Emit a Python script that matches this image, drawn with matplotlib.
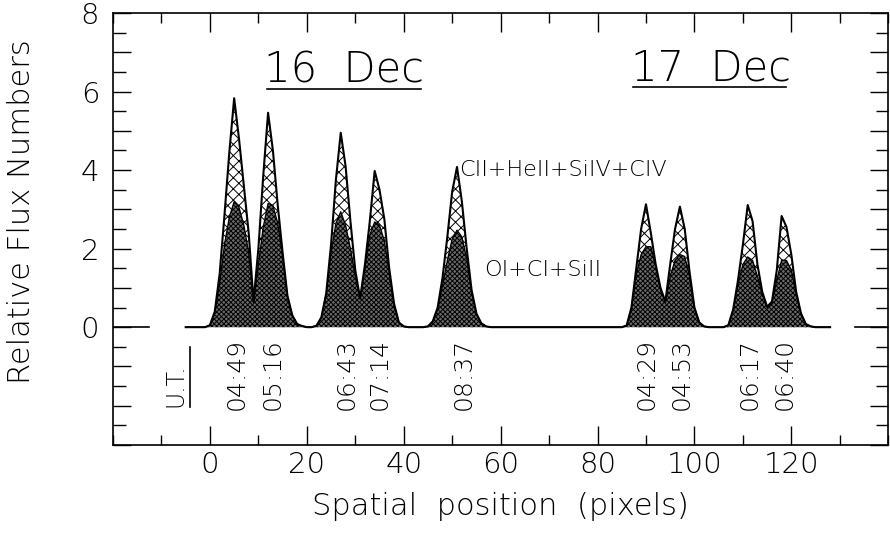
import numpy as np
import matplotlib
matplotlib.use('Agg')
import matplotlib.pyplot as plt
from matplotlib.ticker import MultipleLocator

plt.rcParams['font.family'] = ['DejaVu Sans']
plt.rcParams['font.weight'] = 200
plt.rcParams['axes.labelweight'] = 200
plt.rcParams['hatch.linewidth'] = 0.7

# spatial pixel grid (-5 .. 128)
pixel = np.arange(-5, 129)

# CII+HeII+SiIV+CIV (cross hatched, upper curve)
flux_hi = [0, 0, 0, 0, 0, 0.05, 0.4, 1.35, 2.85, 4.45,
           5.83, 4.8, 3.6, 2.4, 0.65, 2.0, 3.85, 5.46, 4.5, 3.1,
           1.9, 0.8, 0.3, 0.08, 0.03, 0, 0, 0.04, 0.25, 0.86,
           2.1, 3.75, 4.95, 4.1, 2.7, 1.45, 0.73, 1.6, 2.7, 3.98,
           3.5, 2.75, 1.5, 0.6, 0.12, 0.02, 0, 0, 0, 0,
           0.02, 0.15, 0.5, 1.25, 2.3, 3.45, 4.08, 3.2, 2.0, 0.95,
           0.35, 0.1, 0.02, 0, 0, 0, 0, 0, 0, 0,
           0, 0, 0, 0, 0, 0, 0, 0, 0, 0,
           0, 0, 0, 0, 0, 0, 0, 0, 0, 0,
           0, 0.04, 0.5, 1.5, 2.5, 3.13, 2.4, 1.6, 1.0, 0.65,
           1.6, 2.5, 3.07, 2.5, 1.4, 0.5, 0.12, 0.02, 0, 0,
           0, 0, 0.05, 0.45, 1.2, 2.1, 3.11, 2.7, 1.6, 0.9,
           0.52, 0.65, 1.45, 2.83, 2.55, 1.85, 0.9, 0.35, 0.08, 0.02,
           0, 0, 0, 0]

# OI+CI+SiII (dense shading, lower curve)
flux_lo = [0, 0, 0, 0, 0, 0.05, 0.35, 1.1, 2.1, 2.8,
           3.2, 3.05, 2.6, 1.9, 0.62, 1.6, 2.55, 3.15, 3.1, 2.65,
           1.8, 0.78, 0.3, 0.08, 0.03, 0, 0, 0.04, 0.25, 0.85,
           1.9, 2.65, 2.94, 2.6, 2.0, 1.3, 0.72, 1.5, 2.35, 2.68,
           2.6, 2.2, 1.4, 0.58, 0.12, 0.02, 0, 0, 0, 0,
           0.02, 0.14, 0.45, 1.05, 1.7, 2.25, 2.47, 2.3, 1.75, 0.9,
           0.33, 0.1, 0.02, 0, 0, 0, 0, 0, 0, 0,
           0, 0, 0, 0, 0, 0, 0, 0, 0, 0,
           0, 0, 0, 0, 0, 0, 0, 0, 0, 0,
           0, 0.04, 0.48, 1.35, 1.85, 2.05, 2.05, 1.55, 0.95, 0.63,
           1.3, 1.7, 1.85, 1.8, 1.3, 0.5, 0.12, 0.02, 0, 0,
           0, 0, 0.05, 0.43, 1.1, 1.6, 1.79, 1.7, 1.3, 0.85,
           0.5, 0.62, 1.2, 1.71, 1.7, 1.45, 0.85, 0.33, 0.08, 0.02,
           0, 0, 0, 0]

# observation times (U.T.) under each peak
ut_pos = [5.5, 12.9, 28.3, 35.1, 52.3, 90.2, 97.4, 111.4, 118.6]
ut_labels = ['04:49', '05:16', '06:43', '07:14', '08:37',
             '04:29', '04:53', '06:17', '06:40']

fig = plt.figure(figsize=(8.9, 5.42), dpi=100)
ax = fig.add_axes([0.127, 0.179, 0.871, 0.797])

ax.fill_between(pixel, 0, flux_hi, facecolor='white', edgecolor='black',
                hatch='xxx', linewidth=0)
ax.fill_between(pixel, 0, flux_lo, facecolor='0.42', edgecolor='black',
                hatch='xxxxxxx', linewidth=0)
ax.plot(pixel, flux_lo, color='black', lw=0.9)
ax.plot(pixel, flux_hi, color='black', lw=1.5)

ax.set_xlim(-20, 140)
ax.set_ylim(-3, 8)

ax.set_xticks(np.arange(0, 121, 20))
ax.xaxis.set_minor_locator(MultipleLocator(10))
yt = np.arange(-3, 9)
ax.set_yticks(yt)
ax.set_yticklabels([str(v) if v >= 0 and v % 2 == 0 else '' for v in yt])
ax.yaxis.set_minor_locator(MultipleLocator(0.5))

ax.tick_params(which='both', direction='in', top=True, right=True,
               width=1.0, labelsize=21)
ax.tick_params(axis='x', which='major', length=14, pad=4)
ax.tick_params(axis='x', which='minor', length=7)
ax.tick_params(axis='y', which='major', length=13, pad=10)
ax.tick_params(axis='y', which='minor', length=9)
for s in ax.spines.values():
    s.set_linewidth(1.2)

# long zero marks at both sides
ax.plot([0, 0.046], [0, 0], color='black', lw=1.2,
        transform=ax.get_yaxis_transform())
ax.plot([0.957, 1], [0, 0], color='black', lw=1.2,
        transform=ax.get_yaxis_transform())

ax.set_xlabel('Spatial  position  (pixels)', fontsize=22, labelpad=10)
ax.set_ylabel('Relative Flux Numbers', fontsize=22)
ax.yaxis.set_label_coords(-0.099, 0.54)

ax.text(27.7, 6.24, '16  Dec', fontsize=30, ha='center', va='baseline')
ax.plot([11.7, 43.5], [6.06, 6.06], color='black', lw=1.2)
ax.text(103.4, 6.29, '17  Dec', fontsize=30, ha='center', va='baseline')
ax.plot([87.4, 119.0], [6.11, 6.11], color='black', lw=1.2)

ax.text(72.8, 4.0, 'CII+HeII+SiIV+CIV', fontsize=16, ha='center',
        va='center')
ax.text(68.7, 1.45, 'OI+CI+SiII', fontsize=16, ha='center', va='center')

for p, lab in zip(ut_pos, ut_labels):
    ax.text(p, -2.1, lab, rotation=90, fontsize=18, ha='center',
            va='bottom')

ax.text(-7.2, -2.04, 'U.T.', rotation=90, fontsize=17, ha='center',
        va='bottom')
ax.plot([-4.1, -4.1], [-0.51, -2.04], color='black', lw=1.2)

fig.savefig('out.png', dpi=100)
